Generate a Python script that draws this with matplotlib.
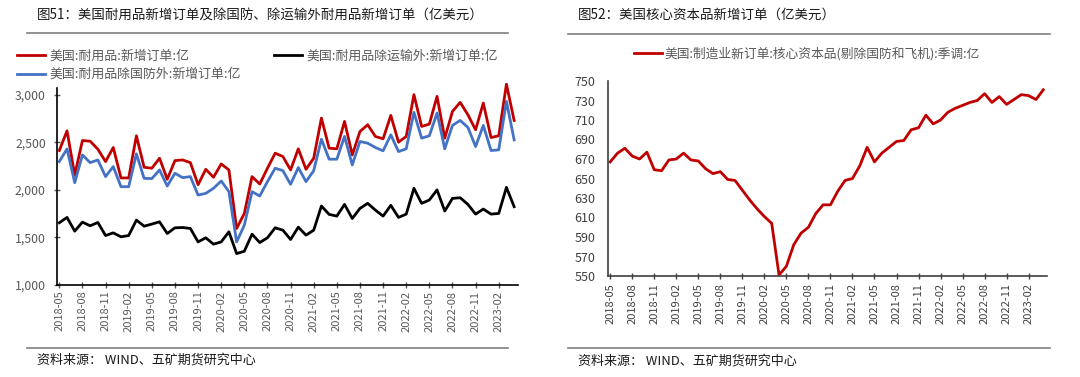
import matplotlib
matplotlib.use("Agg")
import matplotlib.pyplot as plt
import numpy as np
import pandas as pd
from matplotlib.lines import Line2D

plt.rcParams["font.family"] = ["Noto Sans CJK SC", "DejaVu Sans"]

# Monthly data, 2018-05 .. 2023-04
months = pd.date_range("2018-05-01", periods=60, freq="MS").strftime("%Y-%m").tolist()

durable = [2413, 2620, 2156, 2518, 2511, 2427, 2297, 2445, 2125, 2125,
           2568, 2237, 2227, 2332, 2111, 2307, 2314, 2286, 2054, 2216,
           2132, 2272, 2209, 1594, 1752, 2139, 2061, 2227, 2385, 2350,
           2209, 2431, 2216, 2332, 2754, 2438, 2431, 2719, 2367, 2613,
           2684, 2561, 2536, 2782, 2501, 2561, 3000, 2666, 2691, 2982,
           2543, 2824, 2919, 2789, 2631, 2912, 2550, 2568, 3110, 2729]
ex_defense = [2297, 2430, 2075, 2367, 2286, 2314, 2139, 2244, 2033, 2033,
              2378, 2121, 2118, 2209, 2040, 2174, 2128, 2139, 1945, 1963,
              2016, 2093, 1981, 1453, 1629, 1981, 1935, 2086, 2227, 2202,
              2058, 2234, 2086, 2202, 2532, 2322, 2322, 2561, 2262, 2508,
              2490, 2445, 2410, 2578, 2402, 2431, 2814, 2543, 2568, 2807,
              2431, 2677, 2729, 2656, 2455, 2677, 2413, 2420, 2930, 2525]
ex_transport = [1654, 1710, 1566, 1661, 1622, 1657, 1520, 1548, 1506, 1520,
                1682, 1618, 1640, 1664, 1541, 1601, 1604, 1594, 1453, 1496,
                1429, 1453, 1559, 1330, 1355, 1534, 1446, 1496, 1601, 1576,
                1478, 1608, 1524, 1576, 1830, 1742, 1724, 1847, 1699, 1805,
                1858, 1787, 1724, 1837, 1710, 1745, 2016, 1858, 1893, 1999,
                1777, 1910, 1917, 1847, 1745, 1798, 1745, 1752, 2026, 1823]
core_capex = [667, 676, 681, 673, 670, 677, 659, 658, 669, 670,
              676, 669, 668, 660, 655, 657, 649, 648, 638, 628,
              619, 611, 604, 551, 560, 582, 594, 600, 614, 623,
              623, 637, 648, 650, 663, 682, 667, 676, 682, 688,
              689, 700, 702, 715, 706, 710, 718, 722, 725, 728,
              730, 737, 728, 734, 726, 731, 736, 735, 731, 741]

W, H = 1080, 377
fig = plt.figure(figsize=(W / 100, H / 100), dpi=100)


def fx(px):
    return px / W


def fy(py):
    return 1 - py / H


x = np.arange(len(months))
tick_pos = x[::3]
tick_lab = months[::3]
grey = "#595959"

# ---------- left panel ----------
ax1 = fig.add_axes([fx(57), fy(285), fx(518 - 57), fy(88) - fy(285)])
l_red, = ax1.plot(x, durable, color="#C00000", lw=2.0, clip_on=False,
                  label="美国:耐用品:新增订单:亿")
l_blue, = ax1.plot(x, ex_defense, color="#4472C4", lw=2.0, clip_on=False,
                   label="美国:耐用品除国防外:新增订单:亿")
l_blk, = ax1.plot(x, ex_transport, color="black", lw=2.0, clip_on=False,
                  label="美国:耐用品除运输外:新增订单:亿")
ax1.set_xlim(-0.3, 59.5)
ax1.set_ylim(1000, 3070)
ax1.set_yticks([1000, 1500, 2000, 2500, 3000])
ax1.set_yticklabels(["1,000", "1,500", "2,000", "2,500", "3,000"])
ax1.set_xticks(tick_pos)
ax1.set_xticklabels(tick_lab, rotation=90)
ax1.tick_params(axis="both", labelsize=8, colors=grey, length=4,
                direction="inout", width=1)
ax1.tick_params(axis="y", labelsize=8.8, pad=6)
ax1.tick_params(axis="x", pad=2)
for s in ["top", "right"]:
    ax1.spines[s].set_visible(False)
for s in ["left", "bottom"]:
    ax1.spines[s].set_color("black")
    ax1.spines[s].set_linewidth(1.2)

ax1.legend(handles=[l_red, l_blue, l_blk], ncol=2, frameon=False,
           loc="upper left", bbox_to_anchor=(fx(17), fy(50)),
           bbox_transform=fig.transFigure, fontsize=9.3, labelcolor=grey,
           handlelength=2.2, handletextpad=0.35, labelspacing=0.4,
           columnspacing=2.5, borderpad=0, borderaxespad=0)

# ---------- right panel ----------
ax2 = fig.add_axes([fx(608), fy(276), fx(1047 - 608), fy(81) - fy(276)])
l_core, = ax2.plot(x, core_capex, color="#C00000", lw=2.0,
                   label="美国:制造业新订单:核心资本品(剔除国防和飞机):季调:亿")
ax2.set_xlim(-0.3, 59.5)
ax2.set_ylim(550, 750)
ax2.set_yticks(np.arange(550, 751, 20))
ax2.set_xticks(tick_pos)
ax2.set_xticklabels(tick_lab, rotation=90)
ax2.tick_params(axis="y", length=0, labelsize=9, colors="#404040", pad=9)
ax2.tick_params(axis="x", labelsize=8, colors="#404040", length=4,
                direction="inout", width=1, pad=3)
for s in ["top", "right"]:
    ax2.spines[s].set_visible(False)
for s in ["left", "bottom"]:
    ax2.spines[s].set_color("#404040")
    ax2.spines[s].set_linewidth(1.2)

ax2.legend(handles=[l_core], frameon=False, loc="upper center",
           bbox_to_anchor=(fx(807), fy(47)), bbox_transform=fig.transFigure,
           fontsize=9.2, labelcolor=grey, handlelength=2.2,
           handletextpad=0.2, borderpad=0, borderaxespad=0)

# ---------- titles, rules, sources ----------
fig.text(fx(37), fy(15), "图51：美国耐用品新增订单及除国防、除运输外耐用品新增订单（亿美元）",
         fontsize=9.7, va="center", ha="left", color="#1a1a1a")
fig.text(fx(578), fy(15), "图52：美国核心资本品新增订单（亿美元）",
         fontsize=9.7, va="center", ha="left", color="#1a1a1a")
for x0, x1, yy in [(27, 508, 33), (568, 1050, 34), (27, 508, 348), (568, 1050, 348)]:
    fig.add_artist(Line2D([fx(x0), fx(x1)], [fy(yy), fy(yy)], color="#7f7f7f", lw=1.2))
fig.text(fx(37), fy(360), "资料来源： WIND、五矿期货研究中心",
         fontsize=9.4, va="center", ha="left", color="#1a1a1a")
fig.text(fx(578), fy(361), "资料来源： WIND、五矿期货研究中心",
         fontsize=9.4, va="center", ha="left", color="#1a1a1a")

fig.savefig("out.png", dpi=100)
